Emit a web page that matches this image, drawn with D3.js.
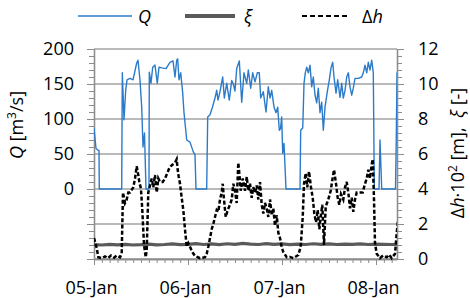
<!DOCTYPE html>
<html>
<head>
<meta charset="utf-8">
<script src="https://cdn.jsdelivr.net/npm/d3@7/dist/d3.min.js"></script>
<style>
    body { margin: 0; background: #fff; }
    text { font-family: "Open Sans", sans-serif; }
</style>
</head>
<body>
<div id="chart"></div>
<script>

// time is in hours from 05-Jan 00:00
var startDate = new Date(2016, 0, 5);
var endHour = 77.36;

var qHours = [0, 0.51, 0.89, 1.28, 1.35, 7.07, 7.23, 7.66, 8.09, 8.43, 9.19, 9.96, 10.90, 11.23, 11.74, 12.18, 12.51, 12.89, 13.28, 14.04,
    14.12, 14.55, 14.99, 15.57, 16.16, 16.60, 17.36, 18.38, 19.40, 20.17, 20.68, 21.11, 21.37, 21.70, 22.14, 22.65, 22.98, 23.67, 24.51, 25.35,
    25.79, 26.04, 28.77, 29.03, 29.62, 30.20, 30.89, 31.33, 31.66, 32.17, 32.86, 33.27, 33.88, 34.54, 35.16, 35.57, 36.00, 36.43, 37.10, 37.71,
    38.30, 38.99, 39.40, 40.01, 40.52, 41.11, 41.69, 42.20, 42.56, 43.23, 43.91, 44.50, 44.94, 45.37, 45.96, 46.47, 46.90, 47.31, 47.62, 47.92,
    48.18, 48.51, 49.02, 52.60, 52.77, 53.29, 53.62, 53.95, 54.31, 54.72, 55.15, 55.58, 55.99, 56.43, 56.86, 57.27, 57.70, 58.14, 58.55, 58.98,
    59.57, 60.08, 60.51, 60.94, 61.28, 61.79, 62.22, 62.81, 63.24, 63.65, 64.09, 64.52, 64.93, 65.36, 65.80, 66.20, 66.64, 67.48, 68.35, 68.76,
    69.19, 69.63, 70.03, 70.47, 70.90, 71.31, 71.57, 72.77, 73.02, 73.46, 76.98, 77.18, 77.36, 77.62];
var qValues = [87, 58, 56, 55, 0, 0, 166, 99, 141, 156, 158, 156, 180, 184, 156, 117, 60, 80, 0, 0,
    167, 151, 174, 177, 151, 174, 173, 172, 181, 183, 160, 184, 186, 156, 166, 137, 109, 70, 67, 53,
    49, 0, 0, 103, 106, 116, 130, 141, 127, 139, 160, 130, 151, 127, 155, 150, 140, 172, 183, 124,
    166, 151, 170, 144, 166, 153, 166, 166, 130, 139, 110, 146, 130, 141, 117, 109, 117, 84, 86, 103,
    51, 65, 0, 0, 84, 87, 151, 166, 174, 166, 177, 146, 160, 134, 123, 144, 109, 124, 84, 117,
    139, 156, 173, 181, 160, 137, 156, 131, 151, 130, 141, 160, 166, 146, 134, 144, 158, 158, 160, 166,
    177, 166, 181, 170, 184, 166, 0, 0, 70, 0, 0, 75, 165, 170];

var dhHours = [0, 0.69, 1.10, 2.04, 2.81, 3.57, 4.34, 5.11, 5.87, 6.64, 7.07, 7.40, 7.91, 8.35, 8.76, 9.19, 10.04, 10.47, 10.90, 11.31,
    11.57, 12.00, 12.33, 12.77, 13.20, 13.46, 13.86, 14.30, 14.73, 15.14, 15.57, 16.01, 16.42, 16.85, 17.54, 18.13, 18.71, 19.23, 19.58, 20.09,
    20.68, 21.11, 21.37, 21.63, 21.96, 22.39, 22.80, 23.23, 23.67, 24.08, 24.51, 25.10, 25.79, 27.06, 28.34, 28.77, 29.18, 29.62, 30.05, 30.46,
    30.89, 31.33, 31.74, 32.17, 32.60, 32.86, 33.19, 33.63, 34.14, 34.72, 35.16, 35.57, 36.00, 36.43, 36.84, 37.10, 37.46, 37.97, 38.55, 38.99,
    39.40, 39.83, 40.26, 40.67, 41.11, 41.54, 41.95, 42.38, 42.82, 43.23, 43.66, 44.09, 44.50, 44.94, 45.37, 45.78, 46.21, 46.65, 47.06, 47.49,
    47.92, 48.33, 49.20, 50.04, 50.89, 52.17, 52.77, 53.29, 53.62, 54.05, 54.46, 54.89, 55.40, 55.84, 56.25, 56.68, 57.12, 57.53, 57.88, 58.29,
    58.72, 59.16, 59.82, 60.43, 60.84, 61.28, 61.79, 62.22, 62.63, 63.06, 63.65, 64.09, 64.52, 64.93, 65.36, 65.80, 66.20, 66.64, 67.07, 67.91,
    68.60, 69.19, 69.63, 70.03, 70.47, 70.90, 71.16, 71.49, 71.74, 72.18, 73.02, 73.79, 74.73, 75.32, 76.01, 76.86, 77.29, 77.62];
var dhValues = [1.2, 0.63, 0.1, 0.05, 0.15, 0.05, 0.2, 0.08, 0.2, 0.1, 0.3, 3.8, 3.2, 3.4, 3.8, 3.8, 4.1, 4.6, 5.3, 4.8,
    4.4, 4.0, 2.8, 0.8, 0.1, 0.5, 3.8, 4.2, 4.6, 4.1, 4.8, 3.8, 4.6, 4.4, 4.4, 4.6, 4.9, 5.2, 5.3, 5.4,
    5.5, 5.7, 5.1, 4.7, 4.3, 3.5, 2.8, 1.7, 0.7, 0.9, 0.7, 0.4, 0.17, 0.05, 0.1, 0.3, 0.7, 1.2, 1.7, 2.0,
    2.4, 2.8, 2.7, 3.4, 3.8, 4.3, 3.4, 2.4, 2.8, 3.1, 3.4, 4.3, 3.9, 3.2, 5.5, 4.9, 3.9, 4.6, 3.9, 4.7,
    3.9, 4.3, 3.5, 4.1, 3.8, 4.2, 3.4, 4.4, 3.1, 2.6, 3.2, 2.9, 2.4, 3.4, 2.5, 2.9, 1.9, 2.5, 1.5, 1.2,
    0.7, 0.4, 0.1, 0.12, 0.05, 0.23, 0.7, 2.4, 4.3, 4.9, 4.1, 5.0, 4.1, 3.5, 2.6, 2.1, 2.8, 1.7, 2.4, 3.1,
    0.8, 3.0, 3.4, 3.9, 4.5, 5.1, 4.3, 3.5, 3.1, 3.7, 3.4, 4.1, 4.4, 3.8, 2.9, 3.5, 2.7, 3.4, 3.8, 3.8,
    3.8, 4.3, 4.6, 5.1, 4.6, 5.4, 5.7, 3.4, 0.9, 0.3, 0.05, 0.2, 0.1, 0.25, 0.05, 0.3, 1.5, 2.2];

var xiHours = [0, 2, 4, 6, 8, 10, 12, 14, 16, 18, 20, 22, 24, 26, 28, 30, 32, 34, 36, 38,
    40, 42, 44, 46, 48, 50, 52, 54, 56, 58, 60, 62, 64, 66, 68, 70, 72, 74, 76, 78];
var xiValues = [0.82, 0.80, 0.83, 0.81, 0.84, 0.80, 0.82, 0.85, 0.81, 0.83, 0.86, 0.82, 0.84, 0.88, 0.83, 0.86, 0.82, 0.87, 0.84, 0.89,
    0.85, 0.83, 0.88, 0.84, 0.86, 0.82, 0.85, 0.83, 0.87, 0.84, 0.86, 0.83, 0.85, 0.84, 0.86, 0.83, 0.85, 0.84, 0.83, 0.84];

var leftTicks = [0, 50, 100, 150, 200];
var rightTicks = [0, 2, 4, 6, 8, 10, 12];
var leftDomain = [-100, 200];
var rightDomain = [0, 12];


FlowChart = function(container){

    this.container = container;
    this.width = 470;
    this.height = 298;
    this.plot = {left: 94, right: 397, top: 49, bottom: 259};

    this.cs = {
        q: "#2b7bca",
        xi: "#5a5a5a",
        dh: "#000000",
        grid: "#a3a3a3",
        axis: "#8c8c8c",
        text: "#000000"
    };

    this._init();
};

FlowChart.prototype._init = function(){

    this._build_graph();
    this._build_scales();
    this._draw_grid();
    this._draw_axes();
    this._draw_series();
    this._draw_axis_labels();
    this._draw_legend();

};

FlowChart.prototype._build_graph = function(){

    this._svg = d3.select(this.container)
        .append("svg")
        .attr("width", this.width)
        .attr("height", this.height);

    this._svg.append("clipPath")
        .attr("id", "plotClip")
        .append("rect")
        .attr("x", this.plot.left)
        .attr("y", this.plot.top - 8)
        .attr("width", this.plot.right - this.plot.left)
        .attr("height", this.plot.bottom - this.plot.top + 10);

};

FlowChart.prototype._toDate = function(h){
    return new Date(startDate.getTime() + h * 3600 * 1000);
};

FlowChart.prototype._build_scales = function(){

    var p = this.plot;

    this.x = d3.scaleTime()
        .domain([startDate, this._toDate(endHour)])
        .range([p.left, p.right]);

    this.yLeft = d3.scaleLinear().domain(leftDomain).range([p.bottom, p.top]);
    this.yRight = d3.scaleLinear().domain(rightDomain).range([p.bottom, p.top]);

};

FlowChart.prototype._draw_grid = function(){

    var self = this;

    this._svg.append("g")
        .selectAll("line")
        .data(rightTicks)
        .enter()
        .append("line")
        .attr("x1", self.plot.left)
        .attr("x2", self.plot.right)
        .attr("y1", function(d){ return self.yRight(d); })
        .attr("y2", function(d){ return self.yRight(d); })
        .style("stroke", self.cs.grid)
        .style("stroke-width", 1.5);

};

FlowChart.prototype._style_axis = function(g){

    var self = this;
    g.attr("font-family", "Open Sans, sans-serif").attr("font-size", 18);
    g.selectAll(".domain").style("stroke", self.cs.axis).style("stroke-width", 1.3);
    g.selectAll(".tick line").style("stroke", self.cs.axis).style("stroke-width", 1);
    g.selectAll(".tick text").style("fill", self.cs.text);

};

FlowChart.prototype._draw_axes = function(){

    var self = this;
    var p = this.plot;

    var leftMinor = d3.range(leftDomain[0], leftDomain[1] + 1, 10);
    var rightMinor = d3.range(0, 30.5, 1).map(function(i){ return i * 0.4; });
    var xMinor = d3.timeHour.every(2).range(startDate, this._toDate(endHour));

    // minor ticks first
    this._svg.append("g")
        .attr("transform", "translate(" + p.left + ",0)")
        .call(d3.axisLeft(this.yLeft).tickValues(leftMinor).tickSize(5).tickSizeOuter(0).tickFormat(""))
        .call(this._style_axis.bind(this));

    this._svg.append("g")
        .attr("transform", "translate(" + p.right + ",0)")
        .call(d3.axisRight(this.yRight).tickValues(rightMinor).tickSize(5).tickSizeOuter(0).tickFormat(""))
        .call(this._style_axis.bind(this));

    this._svg.append("g")
        .attr("transform", "translate(0," + p.bottom + ")")
        .call(d3.axisBottom(this.x).tickValues(xMinor).tickSize(4).tickSizeOuter(0).tickFormat(""))
        .call(this._style_axis.bind(this));

    // major ticks and labels
    this._svg.append("g")
        .attr("transform", "translate(" + p.left + ",0)")
        .call(d3.axisLeft(this.yLeft)
            .tickValues(d3.range(leftDomain[0], leftDomain[1] + 1, 50))
            .tickSize(7).tickSizeOuter(0).tickPadding(13)
            .tickFormat(function(d){ return leftTicks.indexOf(d) >= 0 ? d : ""; }))
        .call(this._style_axis.bind(this));

    this._svg.append("g")
        .attr("transform", "translate(" + p.right + ",0)")
        .call(d3.axisRight(this.yRight)
            .tickValues(rightTicks)
            .tickSize(7).tickSizeOuter(0).tickPadding(14))
        .call(this._style_axis.bind(this));

    var xAxis = this._svg.append("g")
        .attr("transform", "translate(0," + p.bottom + ")")
        .call(d3.axisBottom(this.x)
            .ticks(d3.timeDay.every(1))
            .tickSize(6).tickSizeOuter(0).tickPadding(16)
            .tickFormat(d3.timeFormat("%d-%b")))
        .call(this._style_axis.bind(this));

    xAxis.selectAll(".tick text").attr("dx", -3);

};

FlowChart.prototype._draw_series = function(){

    var self = this;

    var lineLeft = d3.line()
        .x(function(d){ return self.x(self._toDate(d[0])); })
        .y(function(d){ return self.yLeft(d[1]); });

    var lineRight = d3.line()
        .x(function(d){ return self.x(self._toDate(d[0])); })
        .y(function(d){ return self.yRight(d[1]); });

    var chart = this._svg.append("g").attr("clip-path", "url(#plotClip)");

    chart.append("path")
        .datum(d3.zip(qHours, qValues))
        .attr("d", lineLeft)
        .style("fill", "none")
        .style("stroke", self.cs.q)
        .style("stroke-width", 1.4)
        .style("stroke-linejoin", "round");

    chart.append("path")
        .datum(d3.zip(xiHours, xiValues))
        .attr("d", lineRight)
        .style("fill", "none")
        .style("stroke", self.cs.xi)
        .style("stroke-width", 3.2);

    chart.append("path")
        .datum(d3.zip(dhHours, dhValues))
        .attr("d", lineRight)
        .style("fill", "none")
        .style("stroke", self.cs.dh)
        .style("stroke-width", 2.5)
        .style("stroke-dasharray", "4,2.2");

};

FlowChart.prototype._draw_axis_labels = function(){

    var leftLabel = this._svg.append("text")
        .attr("transform", "translate(23,125) rotate(-90)")
        .attr("text-anchor", "middle")
        .attr("font-size", 18)
        .style("fill", this.cs.text);

    leftLabel.append("tspan").style("font-style", "italic").text("Q");
    leftLabel.append("tspan").text(" [m");
    leftLabel.append("tspan").attr("dy", -7).attr("font-size", 12).text("3");
    leftLabel.append("tspan").attr("dy", 7).text("/s]");

    var rightLabel = this._svg.append("text")
        .attr("transform", "translate(464,153) rotate(-90)")
        .attr("text-anchor", "middle")
        .attr("font-size", 18)
        .style("fill", this.cs.text);

    rightLabel.append("tspan").text("\u0394");
    rightLabel.append("tspan").style("font-style", "italic").text("h");
    rightLabel.append("tspan").text("\u00b710");
    rightLabel.append("tspan").attr("dy", -7).attr("font-size", 12).text("2");
    rightLabel.append("tspan").attr("dy", 7).text(" [m],\u00a0\u00a0");
    rightLabel.append("tspan").style("font-style", "italic").text("\u03be");
    rightLabel.append("tspan").text(" [-]");

};

FlowChart.prototype._draw_legend = function(){

    var self = this;
    var y = 16;

    var legend = this._svg.append("g");

    legend.append("line")
        .attr("x1", 78).attr("x2", 132).attr("y1", y).attr("y2", y)
        .style("stroke", self.cs.q).style("stroke-width", 1.5);
    legend.append("text")
        .attr("x", 138).attr("y", y + 7).attr("font-size", 18)
        .style("font-style", "italic").text("Q");

    legend.append("line")
        .attr("x1", 185).attr("x2", 235).attr("y1", y).attr("y2", y)
        .style("stroke", self.cs.xi).style("stroke-width", 4);
    legend.append("text")
        .attr("x", 244).attr("y", y + 7).attr("font-size", 18)
        .style("font-style", "italic").text("\u03be");

    legend.append("line")
        .attr("x1", 302).attr("x2", 348).attr("y1", y).attr("y2", y)
        .style("stroke", self.cs.dh).style("stroke-width", 2)
        .style("stroke-dasharray", "5,3");

    var dh = legend.append("text")
        .attr("x", 362).attr("y", y + 7).attr("font-size", 18);
    dh.append("tspan").text("\u0394");
    dh.append("tspan").style("font-style", "italic").text("h");

};

var chart = new FlowChart("#chart");

</script>
</body>
</html>
